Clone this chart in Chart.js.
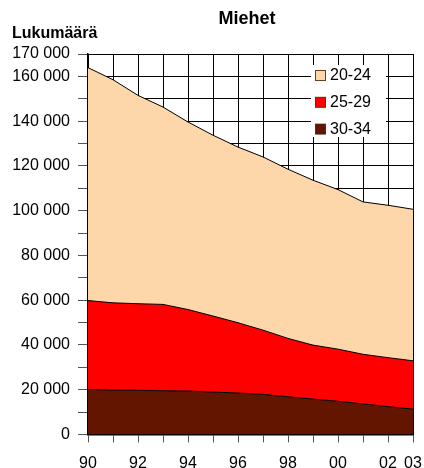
<!DOCTYPE html>
<html>
<head>
<meta charset="utf-8">
<script src="https://cdn.jsdelivr.net/npm/chart.js@4"></script>
<style>
  body { margin: 0; background: #fff; }
  #wrap { width: 424px; height: 468px; }
</style>
</head>
<body>
<div id="wrap"><canvas id="myAreaChart" width="424" height="468"></canvas></div>
<script>
// Miehet, lukumäärä ikäryhmittäin
var years = ['90', '91', '92', '93', '94', '95', '96', '97', '98', '99', '00', '01', '02', '03'];
var shownYears = ['90', '92', '94', '96', '98', '00', '02', '03'];
var labelledValues = [0, 20000, 40000, 60000, 80000, 100000, 120000, 140000, 160000, 170000];

var men3034 = [20100, 19800, 19700, 19500, 19400, 18900, 18500, 17900, 16800, 15800, 14800, 13600, 12400, 11300];
var men2529 = [39700, 39000, 38700, 38600, 36400, 34000, 31400, 28700, 26100, 24100, 23300, 22200, 21900, 21600];
var men2024 = [104100, 99700, 93100, 88200, 83800, 80800, 78500, 77400, 75600, 73700, 71300, 68100, 68100, 67700];

var font = "'Liberation Sans', Arial, sans-serif";

function fmt(v) {
  return String(v).replace(/\B(?=(\d{3})+(?!\d))/g, ' ');
}

// otsikot
var titles = {
  id: 'titles',
  afterDraw: function(chart) {
    var c = chart.ctx;
    c.save();
    c.fillStyle = '#000';
    c.textBaseline = 'middle';
    c.font = 'bold 18px ' + font;
    c.textAlign = 'center';
    c.fillText('Miehet', 247, 19);
    c.font = 'bold 16px ' + font;
    c.textAlign = 'left';
    c.fillText('Lukumäärä', 12, 34);
    c.restore();
  }
};

// selite kuva-alueen sisällä
var boxLegend = {
  id: 'boxLegend',
  afterDatasetsDraw: function(chart) {
    var c = chart.ctx;
    var sets = chart.data.datasets.slice().reverse();
    c.save();
    c.fillStyle = '#fff';
    c.fillRect(311, 65, 75, 72);
    c.font = '16px ' + font;
    c.textBaseline = 'middle';
    c.textAlign = 'left';
    sets.forEach(function(ds, i) {
      var y = 75 + i * 26.8;
      c.fillStyle = ds.backgroundColor;
      c.fillRect(315.5, y - 4.5, 10, 10);
      c.strokeStyle = 'rgba(60,20,0,0.8)';
      c.lineWidth = 1;
      c.strokeRect(315.5, y - 4.5, 10, 10);
      c.fillStyle = '#000';
      c.fillText(ds.label, 330, y + 1);
    });
    c.restore();
  }
};

var ctx = document.getElementById('myAreaChart').getContext('2d');
var myAreaChart = new Chart(ctx, {
  type: 'line',
  data: {
    labels: years,
    datasets: [{
      label: '30-34',
      data: men3034,
      backgroundColor: '#641500',
      borderColor: '#000',
      borderWidth: 1,
      fill: 'origin',
      pointRadius: 0
    }, {
      label: '25-29',
      data: men2529,
      backgroundColor: '#ff0000',
      borderColor: '#000',
      borderWidth: 1,
      fill: '-1',
      pointRadius: 0
    }, {
      label: '20-24',
      data: men2024,
      backgroundColor: '#fdd6aa',
      borderColor: '#000',
      borderWidth: 1,
      fill: '-1',
      pointRadius: 0
    }]
  },
  options: {
    responsive: false,
    animation: false,
    layout: { padding: { top: 54, right: 11, left: 0, bottom: 0 } },
    plugins: {
      legend: { display: false },
      tooltip: { enabled: false }
    },
    scales: {
      x: {
        offset: false,
        afterFit: function(s) {
          s.height = 33.6;
          s.paddingLeft = 0;
          s.paddingRight = 0;
        },
        grid: { color: '#000', tickColor: '#555', tickLength: 8, lineWidth: 1 },
        border: { color: '#000', width: 1.5 },
        ticks: {
          autoSkip: false,
          maxRotation: 0,
          padding: 12,
          color: '#000',
          font: { family: font, size: 16 },
          callback: function(v, i) {
            var l = years[i];
            return shownYears.indexOf(l) >= 0 ? l : '';
          }
        }
      },
      y: {
        stacked: true,
        min: 0,
        max: 170000,
        afterFit: function(s) {
          s.width = 88;
          s.paddingTop = 0;
          s.paddingBottom = 0;
        },
        grid: { color: '#000', tickColor: '#555', tickLength: 10, lineWidth: 1 },
        border: { color: '#000', width: 1.5 },
        ticks: {
          stepSize: 10000,
          padding: 8,
          color: '#000',
          font: { family: font, size: 16 },
          callback: function(v) {
            return labelledValues.indexOf(v) >= 0 ? fmt(v) : '';
          }
        }
      }
    }
  },
  plugins: [titles, boxLegend]
});
</script>
</body>
</html>
